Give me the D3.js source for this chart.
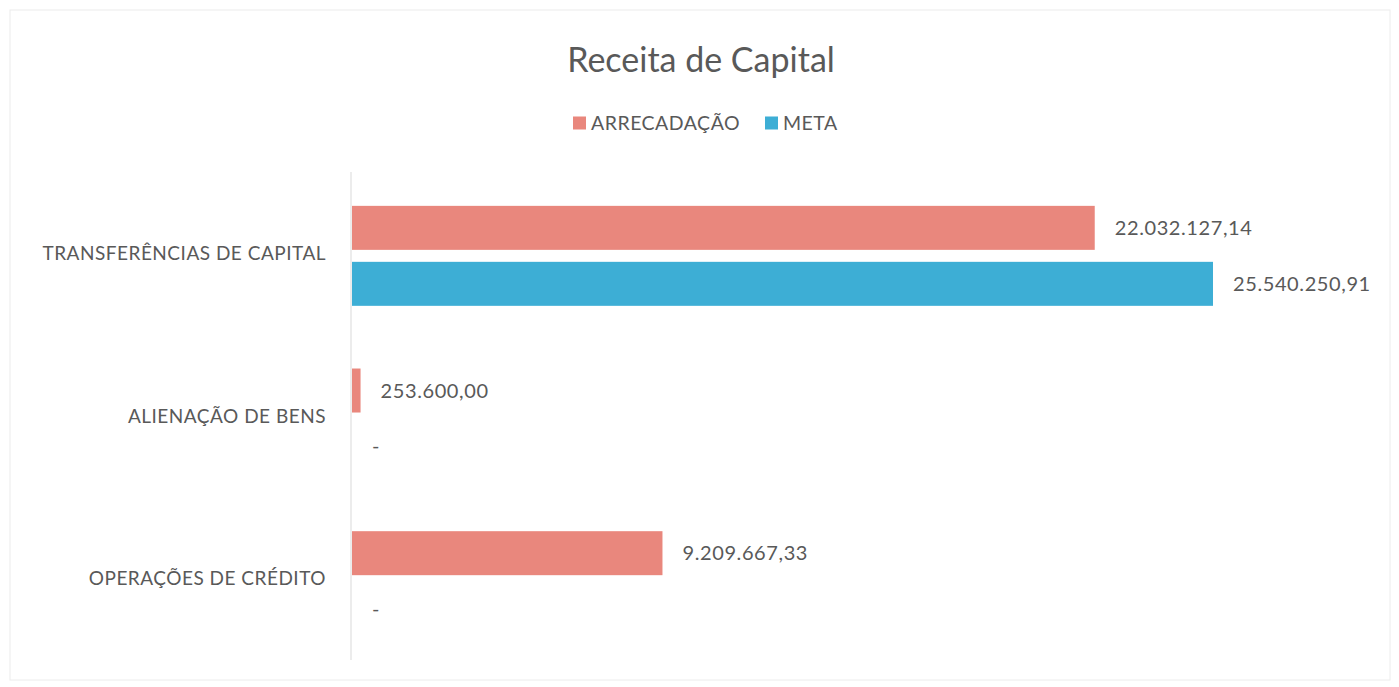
<!DOCTYPE html>
<html>
<head>
<meta charset="utf-8">
<script src="https://cdn.jsdelivr.net/npm/d3@7"></script>
<style>
  body { margin: 0; background: #fff; }
  text { font-family: Lato, "Open Sans", sans-serif; fill: #595959; }
</style>
</head>
<body>
<script>
// data
var categories = ["TRANSFERÊNCIAS DE CAPITAL", "ALIENAÇÃO DE BENS", "OPERAÇÕES DE CRÉDITO"];
var seriesNames = ["ARRECADAÇÃO", "META"];
var arrecadacao = [22032127.14, 253600.00, 9209667.33];
var meta = [25540250.91, 0, 0];
var seriesColors = ["#E9877D", "#3DAED5"];

var width = 1399, height = 687;

var svg = d3.select("body").append("svg")
    .attr("width", width)
    .attr("height", height);

// faint frame of the chart area
svg.append("rect")
    .attr("x", 10).attr("y", 10)
    .attr("width", 1380).attr("height", 670)
    .attr("fill", "none")
    .attr("stroke", "#ececec")
    .attr("stroke-width", 1);

// title
svg.append("text")
    .attr("x", 701).attr("y", 72)
    .attr("text-anchor", "middle")
    .style("font-size", "34px")
    .text("Receita de Capital");

// legend
var legend = svg.append("g").attr("transform", "translate(573, 123)");
var lx = [0, 192];
seriesNames.forEach(function(s, i) {
  var g = legend.append("g").attr("transform", "translate(" + lx[i] + ",0)");
  g.append("rect")
      .attr("x", 0).attr("y", -6.5)
      .attr("width", 13).attr("height", 13)
      .attr("fill", seriesColors[i]);
  g.append("text")
      .attr("x", 18).attr("y", 0)
      .attr("dy", "0.35em")
      .style("font-size", "19.5px")
      .style("letter-spacing", "0.5px")
      .text(s);
});

// scales
var x = d3.scaleLinear()
    .domain([0, d3.max(meta)])
    .range([352, 1213]);

var y0 = d3.scaleBand()
    .domain(categories)
    .range([172, 660]);

var y1 = d3.scaleBand()
    .domain(seriesNames)
    .range([0, y0.bandwidth()])
    .paddingInner(0.214)
    .paddingOuter(0.56)
    .align(0.54);

var rows = categories.map(function(c, i) {
  return {cat: c, vals: [
    {s: seriesNames[0], v: arrecadacao[i], color: seriesColors[0]},
    {s: seriesNames[1], v: meta[i], color: seriesColors[1]}
  ]};
});

// category labels
svg.append("g").selectAll("text")
    .data(categories)
    .enter().append("text")
    .attr("x", 326)
    .attr("y", function(d) { return y0(d) + y0.bandwidth() / 2; })
    .attr("dy", "0.35em")
    .attr("text-anchor", "end")
    .style("font-size", "19px")
    .style("letter-spacing", "0.5px")
    .text(function(d) { return d; });

var fmt = d3.formatLocale({decimal: ",", thousands: ".", grouping: [3], currency: ["", ""]}).format(",.2f");

var group = svg.append("g").selectAll("g")
    .data(rows)
    .enter().append("g")
    .attr("transform", function(d) { return "translate(0," + y0(d.cat) + ")"; });

group.selectAll("rect")
    .data(function(d) { return d.vals; })
    .enter().append("rect")
    .attr("x", x(0))
    .attr("y", function(d) { return y1(d.s); })
    .attr("width", function(d) { return x(d.v) - x(0); })
    .attr("height", y1.bandwidth())
    .attr("fill", function(d) { return d.color; });

group.selectAll("text")
    .data(function(d) { return d.vals; })
    .enter().append("text")
    .attr("x", function(d) { return x(d.v) + 20; })
    .attr("y", function(d) { return y1(d.s) + y1.bandwidth() / 2; })
    .attr("dy", "0.35em")
    .style("font-size", "20px")
    .style("letter-spacing", "0.6px")
    .text(function(d) { return d.v === 0 ? "-" : fmt(d.v); });

// vertical axis line
svg.append("line")
    .attr("x1", 351).attr("x2", 351)
    .attr("y1", 172).attr("y2", 660)
    .attr("stroke", "#d9d9d9")
    .attr("stroke-width", 1);
</script>
</body>
</html>
